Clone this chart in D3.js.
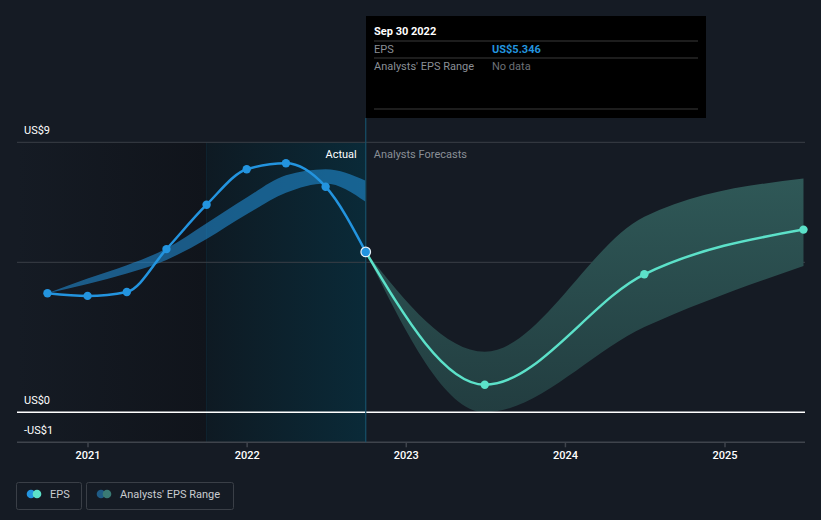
<!DOCTYPE html>
<html><head><meta charset="utf-8">
<script src="https://cdn.jsdelivr.net/npm/d3@7"></script>
<style>
html,body{margin:0;padding:0;background:#151b24;}
svg{display:block;font-family:Roboto,"Open Sans",sans-serif;}
</style></head>
<body>
<svg id="c" width="821" height="520"></svg>
<script>
// ---- data ----
const epsDates = ["2020-09-30","2020-12-31","2021-03-31","2021-06-30","2021-09-30","2021-12-31","2022-03-31","2022-06-30","2022-09-30"];
const epsValues = [3.97, 3.88, 4.01, 5.44, 6.92, 8.10, 8.30, 7.52, 5.346];
const pastRangeLow  = [3.97, 4.28, 4.63, 5.08, 5.78, 6.60, 7.32, 7.63, 7.02];
const pastRangeHigh = [3.97, 4.46, 4.90, 5.46, 6.30, 7.16, 7.90, 8.10, 7.72];
const fcDates = ["2022-09-30","2023-06-30","2024-06-30","2025-06-30"];
const fcValues = [5.346, 0.92, 4.60, 6.09];
const fcLow  = [5.346, 0.0, 2.84, 4.88];
const fcHigh = [5.346, 2.02, 6.52, 7.79];
const yTicks = [9, 0, -1];
const yTickLabels = ["US$9", "US$0", "-US$1"];
const gridValues = [9, 5];
const xTickYears = [2021, 2022, 2023, 2024, 2025];

const parse = d3.timeParse("%Y-%m-%d");
const svg = d3.select("#c");
const L = 17, R = 805, T = 142.3, B = 442.3;
const x = d3.scaleTime().domain([new Date(2021,0,1), new Date(2025,0,1)]).range([88, 725]);
const y = d3.scaleLinear().domain([-1, 9]).range([B, T]);
const xNow = x(parse("2022-09-30"));
const xPastStart = x(parse("2021-09-30"));

const defs = svg.append("defs");
const g1 = defs.append("linearGradient").attr("id","gLeft");
g1.append("stop").attr("offset","0").attr("stop-color","#151b24");
g1.append("stop").attr("offset","1").attr("stop-color","#10141b");
const g2 = defs.append("linearGradient").attr("id","gPast");
g2.append("stop").attr("offset","0").attr("stop-color","#0e1a23");
g2.append("stop").attr("offset","1").attr("stop-color","#0a2a38");
const g3 = defs.append("linearGradient").attr("id","gFc").attr("x1",0).attr("x2",0).attr("y1",0).attr("y2",1);
g3.append("stop").attr("offset","0").attr("stop-color","#2f5857");
g3.append("stop").attr("offset","1").attr("stop-color","#223d40");
defs.append("clipPath").attr("id","clipPast").append("rect").attr("x",L).attr("y",0).attr("width",xNow-L).attr("height",B);

// background regions
svg.append("rect").attr("x",L).attr("y",T).attr("width",xPastStart-L).attr("height",B-T).attr("fill","url(#gLeft)");
svg.append("rect").attr("x",xPastStart).attr("y",T).attr("width",xNow-xPastStart).attr("height",B-T).attr("fill","url(#gPast)");
svg.append("line").attr("x1",xPastStart).attr("x2",xPastStart).attr("y1",T).attr("y2",B).attr("stroke","#0f2430").attr("stroke-width",1);

// gridlines
svg.selectAll(".grid").data(gridValues).enter().append("line")
  .attr("x1",L).attr("x2",R).attr("y1",d=>y(d)).attr("y2",d=>y(d))
  .attr("stroke","#3a3f47").attr("stroke-width",1);

// past analyst band
const pastBand = epsDates.map((d,i)=>({date:parse(d), lo:pastRangeLow[i], hi:pastRangeHigh[i]}));
svg.append("path").datum(pastBand)
  .attr("d", d3.area().curve(d3.curveMonotoneX).x(d=>x(d.date)).y0(d=>y(d.lo)).y1(d=>y(d.hi)))
  .attr("fill","#2394df").attr("fill-opacity",0.55).attr("clip-path","url(#clipPast)");

// forecast band
const fcBand = fcDates.map((d,i)=>({date:parse(d), lo:fcLow[i], hi:fcHigh[i], v:fcValues[i]}));
svg.append("path").datum(fcBand)
  .attr("d", d3.area().curve(d3.curveMonotoneX).x(d=>x(d.date)).y0(d=>y(d.lo)).y1(d=>y(d.hi)))
  .attr("fill","url(#gFc)");

// zero line
svg.append("line").attr("x1",L).attr("x2",R).attr("y1",y(0)).attr("y2",y(0)).attr("stroke","#ffffff").attr("stroke-width",1.5);

// x axis line
svg.append("line").attr("x1",L).attr("x2",R).attr("y1",B).attr("y2",B).attr("stroke","#3f444c").attr("stroke-width",1.5);

// now line
svg.append("line").attr("x1",xNow).attr("x2",xNow).attr("y1",118).attr("y2",B).attr("stroke","#17506a").attr("stroke-width",1.2);

// EPS line
const eps = epsDates.map((d,i)=>({date:parse(d), v:epsValues[i]}));
const line = d3.line().curve(d3.curveMonotoneX).x(d=>x(d.date)).y(d=>y(d.v));
svg.append("path").datum(eps).attr("d",line).attr("fill","none").attr("stroke","#2394df").attr("stroke-width",2.5);
svg.append("path").datum(fcBand).attr("d",line).attr("fill","none").attr("stroke","#5ce1c9").attr("stroke-width",2.5);

svg.selectAll(".ep").data(eps.slice(0,-1)).enter().append("circle")
  .attr("cx",d=>x(d.date)).attr("cy",d=>y(d.v)).attr("r",4.2).attr("fill","#2394df");
svg.selectAll(".fp").data(fcBand.slice(1)).enter().append("circle")
  .attr("cx",d=>x(d.date)).attr("cy",d=>y(d.v)).attr("r",4.2).attr("fill","#5ce1c9");
const last = eps[eps.length-1];
svg.append("circle").attr("cx",x(last.date)).attr("cy",y(last.v)).attr("r",4.8)
  .attr("fill","#2394df").attr("stroke","#e8f2fa").attr("stroke-width",1.2);

// labels Actual / Analysts Forecasts
svg.append("text").attr("x",xNow-9).attr("y",158).attr("text-anchor","end")
  .attr("fill","#ffffff").attr("font-size",11).text("Actual");
svg.append("text").attr("x",xNow+8).attr("y",158)
  .attr("fill","#8a8f96").attr("font-size",11).text("Analysts Forecasts");

// y tick labels
svg.selectAll(".yl").data(yTicks).enter().append("text")
  .attr("x",24).attr("y",d=>y(d)-8).attr("fill","#ffffff").attr("font-size",11)
  .text((d,i)=>yTickLabels[i]);

// x ticks
const xt = xTickYears.map(yr=>new Date(yr,0,1));
svg.selectAll(".xt").data(xt).enter().append("line")
  .attr("x1",d=>x(d)).attr("x2",d=>x(d)).attr("y1",B).attr("y2",B+5).attr("stroke","#3f444c").attr("stroke-width",1.5);
svg.selectAll(".xl").data(xt).enter().append("text")
  .attr("x",d=>x(d)).attr("y",459).attr("text-anchor","middle").attr("fill","#ffffff")
  .attr("font-size",11).attr("font-weight",500).text(d=>d3.timeFormat("%Y")(d));

// tooltip
const tip = svg.append("g");
tip.append("rect").attr("x",366).attr("y",16).attr("width",340).attr("height",102).attr("fill","#000000");
tip.append("text").attr("x",374).attr("y",35).attr("fill","#ffffff").attr("font-size",11).attr("font-weight",700).text("Sep 30 2022");
[41,58,109].forEach(yy=>tip.append("line").attr("x1",374).attr("x2",698).attr("y1",yy).attr("y2",yy).attr("stroke","#3a3a3a").attr("stroke-width",1));
tip.append("text").attr("x",374).attr("y",53).attr("fill","#8a8f96").attr("font-size",11).text("EPS");
tip.append("text").attr("x",492).attr("y",53).attr("fill","#2394df").attr("font-size",11).attr("font-weight",700).text("US$" + epsValues[epsValues.length-1]);
tip.append("text").attr("x",374).attr("y",70).attr("fill","#8a8f96").attr("font-size",11).text("Analysts' EPS Range");
tip.append("text").attr("x",492).attr("y",70).attr("fill","#6c7077").attr("font-size",11).text("No data");

// legend
const lg = svg.append("g");
lg.append("rect").attr("x",16.5).attr("y",482.5).attr("width",65).attr("height",27).attr("rx",2).attr("fill","none").attr("stroke","#3a3f47");
lg.append("circle").attr("cx",31).attr("cy",494).attr("r",4.3).attr("fill","#2394df");
lg.append("circle").attr("cx",37).attr("cy",494).attr("r",4.3).attr("fill","#5ce1c9");
lg.append("text").attr("x",50).attr("y",498).attr("fill","#c9ccd0").attr("font-size",11).text("EPS");
lg.append("rect").attr("x",86.5).attr("y",482.5).attr("width",147).attr("height",27).attr("rx",2).attr("fill","none").attr("stroke","#3a3f47");
lg.append("circle").attr("cx",101).attr("cy",494).attr("r",4.3).attr("fill","#1f5b85");
lg.append("circle").attr("cx",107).attr("cy",494).attr("r",4.3).attr("fill","#3a7a74");
lg.append("text").attr("x",120).attr("y",498).attr("fill","#c9ccd0").attr("font-size",11).text("Analysts' EPS Range");
</script>
</body></html>
